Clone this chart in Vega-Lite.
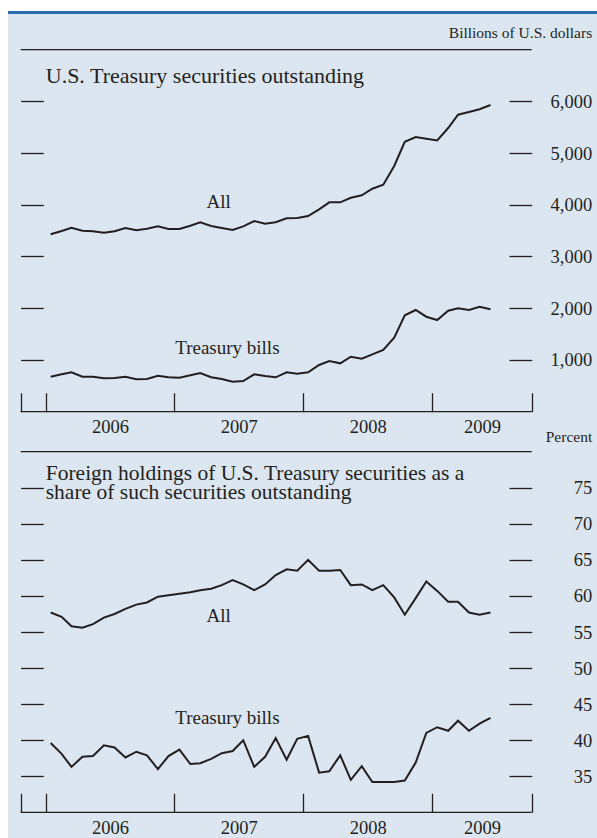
{
  "$schema": "https://vega.github.io/schema/vega-lite/v6.json",
  "background": "#ffffff",
  "padding": {"left": 8, "top": 11, "right": 0, "bottom": 0},
  "bounds": "flush",
  "spacing": 0,
  "config": {
    "font": "Liberation Serif",
    "view": {"stroke": null},
    "axis": {"labelFont": "Liberation Serif", "titleFont": "Liberation Serif", "labelColor": "#231f20", "tickColor": "#231f20", "titleColor": "#231f20", "grid": false, "domain": false, "tickWidth": 1.3, "labelFontSize": 18.5, "titleFontWeight": "normal"}
  },
  "datasets": {
    "outstanding": [
      {"series": "All", "date": "2006-01-15", "value": 3429}, {"series": "All", "date": "2006-02-15", "value": 3492}, {"series": "All", "date": "2006-03-15", "value": 3556}, {"series": "All", "date": "2006-04-15", "value": 3498}, {"series": "All", "date": "2006-05-15", "value": 3487}, {"series": "All", "date": "2006-06-15", "value": 3460}, {"series": "All", "date": "2006-07-15", "value": 3487}, {"series": "All", "date": "2006-08-15", "value": 3550}, {"series": "All", "date": "2006-09-15", "value": 3506}, {"series": "All", "date": "2006-10-15", "value": 3537}, {"series": "All", "date": "2006-11-15", "value": 3583}, {"series": "All", "date": "2006-12-15", "value": 3531},
      {"series": "All", "date": "2007-01-15", "value": 3531}, {"series": "All", "date": "2007-02-15", "value": 3595}, {"series": "All", "date": "2007-03-15", "value": 3661}, {"series": "All", "date": "2007-04-15", "value": 3589}, {"series": "All", "date": "2007-05-15", "value": 3550}, {"series": "All", "date": "2007-06-15", "value": 3512}, {"series": "All", "date": "2007-07-15", "value": 3583}, {"series": "All", "date": "2007-08-15", "value": 3686}, {"series": "All", "date": "2007-09-15", "value": 3634}, {"series": "All", "date": "2007-10-15", "value": 3661}, {"series": "All", "date": "2007-11-15", "value": 3738}, {"series": "All", "date": "2007-12-15", "value": 3744},
      {"series": "All", "date": "2008-01-15", "value": 3782}, {"series": "All", "date": "2008-02-15", "value": 3912}, {"series": "All", "date": "2008-03-15", "value": 4047}, {"series": "All", "date": "2008-04-15", "value": 4047}, {"series": "All", "date": "2008-05-15", "value": 4136}, {"series": "All", "date": "2008-06-15", "value": 4182}, {"series": "All", "date": "2008-07-15", "value": 4310}, {"series": "All", "date": "2008-08-15", "value": 4387}, {"series": "All", "date": "2008-09-15", "value": 4749}, {"series": "All", "date": "2008-10-15", "value": 5218}, {"series": "All", "date": "2008-11-15", "value": 5309}, {"series": "All", "date": "2008-12-15", "value": 5276},
      {"series": "All", "date": "2009-01-15", "value": 5244}, {"series": "All", "date": "2009-02-15", "value": 5483}, {"series": "All", "date": "2009-03-15", "value": 5740}, {"series": "All", "date": "2009-04-15", "value": 5792}, {"series": "All", "date": "2009-05-15", "value": 5845}, {"series": "All", "date": "2009-06-15", "value": 5928},
      {"series": "Treasury bills", "date": "2006-01-15", "value": 676}, {"series": "Treasury bills", "date": "2006-02-15", "value": 723}, {"series": "Treasury bills", "date": "2006-03-15", "value": 761}, {"series": "Treasury bills", "date": "2006-04-15", "value": 676}, {"series": "Treasury bills", "date": "2006-05-15", "value": 676}, {"series": "Treasury bills", "date": "2006-06-15", "value": 646}, {"series": "Treasury bills", "date": "2006-07-15", "value": 651}, {"series": "Treasury bills", "date": "2006-08-15", "value": 676}, {"series": "Treasury bills", "date": "2006-09-15", "value": 626}, {"series": "Treasury bills", "date": "2006-10-15", "value": 632}, {"series": "Treasury bills", "date": "2006-11-15", "value": 696}, {"series": "Treasury bills", "date": "2006-12-15", "value": 665},
      {"series": "Treasury bills", "date": "2007-01-15", "value": 657}, {"series": "Treasury bills", "date": "2007-02-15", "value": 704}, {"series": "Treasury bills", "date": "2007-03-15", "value": 748}, {"series": "Treasury bills", "date": "2007-04-15", "value": 665}, {"series": "Treasury bills", "date": "2007-05-15", "value": 632}, {"series": "Treasury bills", "date": "2007-06-15", "value": 580}, {"series": "Treasury bills", "date": "2007-07-15", "value": 593}, {"series": "Treasury bills", "date": "2007-08-15", "value": 723}, {"series": "Treasury bills", "date": "2007-09-15", "value": 690}, {"series": "Treasury bills", "date": "2007-10-15", "value": 665}, {"series": "Treasury bills", "date": "2007-11-15", "value": 761}, {"series": "Treasury bills", "date": "2007-12-15", "value": 734},
      {"series": "Treasury bills", "date": "2008-01-15", "value": 761}, {"series": "Treasury bills", "date": "2008-02-15", "value": 903}, {"series": "Treasury bills", "date": "2008-03-15", "value": 980}, {"series": "Treasury bills", "date": "2008-04-15", "value": 935}, {"series": "Treasury bills", "date": "2008-05-15", "value": 1063}, {"series": "Treasury bills", "date": "2008-06-15", "value": 1024}, {"series": "Treasury bills", "date": "2008-07-15", "value": 1109}, {"series": "Treasury bills", "date": "2008-08-15", "value": 1193}, {"series": "Treasury bills", "date": "2008-09-15", "value": 1430}, {"series": "Treasury bills", "date": "2008-10-15", "value": 1863}, {"series": "Treasury bills", "date": "2008-11-15", "value": 1966}, {"series": "Treasury bills", "date": "2008-12-15", "value": 1836},
      {"series": "Treasury bills", "date": "2009-01-15", "value": 1772}, {"series": "Treasury bills", "date": "2009-02-15", "value": 1952}, {"series": "Treasury bills", "date": "2009-03-15", "value": 1998}, {"series": "Treasury bills", "date": "2009-04-15", "value": 1966}, {"series": "Treasury bills", "date": "2009-05-15", "value": 2029}, {"series": "Treasury bills", "date": "2009-06-15", "value": 1979}
    ],
    "share": [
      {"series": "All", "date": "2006-01-15", "value": 57.7}, {"series": "All", "date": "2006-02-15", "value": 57.1}, {"series": "All", "date": "2006-03-15", "value": 55.8}, {"series": "All", "date": "2006-04-15", "value": 55.6}, {"series": "All", "date": "2006-05-15", "value": 56.1}, {"series": "All", "date": "2006-06-15", "value": 57.0}, {"series": "All", "date": "2006-07-15", "value": 57.5}, {"series": "All", "date": "2006-08-15", "value": 58.2}, {"series": "All", "date": "2006-09-15", "value": 58.8}, {"series": "All", "date": "2006-10-15", "value": 59.1}, {"series": "All", "date": "2006-11-15", "value": 59.9}, {"series": "All", "date": "2006-12-15", "value": 60.1},
      {"series": "All", "date": "2007-01-15", "value": 60.3}, {"series": "All", "date": "2007-02-15", "value": 60.5}, {"series": "All", "date": "2007-03-15", "value": 60.8}, {"series": "All", "date": "2007-04-15", "value": 61.0}, {"series": "All", "date": "2007-05-15", "value": 61.5}, {"series": "All", "date": "2007-06-15", "value": 62.2}, {"series": "All", "date": "2007-07-15", "value": 61.6}, {"series": "All", "date": "2007-08-15", "value": 60.8}, {"series": "All", "date": "2007-09-15", "value": 61.6}, {"series": "All", "date": "2007-10-15", "value": 62.9}, {"series": "All", "date": "2007-11-15", "value": 63.7}, {"series": "All", "date": "2007-12-15", "value": 63.5},
      {"series": "All", "date": "2008-01-15", "value": 65.0}, {"series": "All", "date": "2008-02-15", "value": 63.5}, {"series": "All", "date": "2008-03-15", "value": 63.5}, {"series": "All", "date": "2008-04-15", "value": 63.6}, {"series": "All", "date": "2008-05-15", "value": 61.5}, {"series": "All", "date": "2008-06-15", "value": 61.6}, {"series": "All", "date": "2008-07-15", "value": 60.8}, {"series": "All", "date": "2008-08-15", "value": 61.5}, {"series": "All", "date": "2008-09-15", "value": 59.8}, {"series": "All", "date": "2008-10-15", "value": 57.4}, {"series": "All", "date": "2008-11-15", "value": 59.7}, {"series": "All", "date": "2008-12-15", "value": 62.0},
      {"series": "All", "date": "2009-01-15", "value": 60.7}, {"series": "All", "date": "2009-02-15", "value": 59.2}, {"series": "All", "date": "2009-03-15", "value": 59.2}, {"series": "All", "date": "2009-04-15", "value": 57.7}, {"series": "All", "date": "2009-05-15", "value": 57.4}, {"series": "All", "date": "2009-06-15", "value": 57.7},
      {"series": "Treasury bills", "date": "2006-01-15", "value": 39.6}, {"series": "Treasury bills", "date": "2006-02-15", "value": 38.1}, {"series": "Treasury bills", "date": "2006-03-15", "value": 36.3}, {"series": "Treasury bills", "date": "2006-04-15", "value": 37.7}, {"series": "Treasury bills", "date": "2006-05-15", "value": 37.8}, {"series": "Treasury bills", "date": "2006-06-15", "value": 39.3}, {"series": "Treasury bills", "date": "2006-07-15", "value": 39.0}, {"series": "Treasury bills", "date": "2006-08-15", "value": 37.6}, {"series": "Treasury bills", "date": "2006-09-15", "value": 38.4}, {"series": "Treasury bills", "date": "2006-10-15", "value": 37.9}, {"series": "Treasury bills", "date": "2006-11-15", "value": 36.0}, {"series": "Treasury bills", "date": "2006-12-15", "value": 37.8},
      {"series": "Treasury bills", "date": "2007-01-15", "value": 38.7}, {"series": "Treasury bills", "date": "2007-02-15", "value": 36.7}, {"series": "Treasury bills", "date": "2007-03-15", "value": 36.8}, {"series": "Treasury bills", "date": "2007-04-15", "value": 37.4}, {"series": "Treasury bills", "date": "2007-05-15", "value": 38.2}, {"series": "Treasury bills", "date": "2007-06-15", "value": 38.5}, {"series": "Treasury bills", "date": "2007-07-15", "value": 40.0}, {"series": "Treasury bills", "date": "2007-08-15", "value": 36.3}, {"series": "Treasury bills", "date": "2007-09-15", "value": 37.7}, {"series": "Treasury bills", "date": "2007-10-15", "value": 40.3}, {"series": "Treasury bills", "date": "2007-11-15", "value": 37.3}, {"series": "Treasury bills", "date": "2007-12-15", "value": 40.2},
      {"series": "Treasury bills", "date": "2008-01-15", "value": 40.6}, {"series": "Treasury bills", "date": "2008-02-15", "value": 35.5}, {"series": "Treasury bills", "date": "2008-03-15", "value": 35.7}, {"series": "Treasury bills", "date": "2008-04-15", "value": 37.9}, {"series": "Treasury bills", "date": "2008-05-15", "value": 34.5}, {"series": "Treasury bills", "date": "2008-06-15", "value": 36.4}, {"series": "Treasury bills", "date": "2008-07-15", "value": 34.2}, {"series": "Treasury bills", "date": "2008-08-15", "value": 34.2}, {"series": "Treasury bills", "date": "2008-09-15", "value": 34.2}, {"series": "Treasury bills", "date": "2008-10-15", "value": 34.4}, {"series": "Treasury bills", "date": "2008-11-15", "value": 36.9}, {"series": "Treasury bills", "date": "2008-12-15", "value": 41.0},
      {"series": "Treasury bills", "date": "2009-01-15", "value": 41.8}, {"series": "Treasury bills", "date": "2009-02-15", "value": 41.3}, {"series": "Treasury bills", "date": "2009-03-15", "value": 42.7}, {"series": "Treasury bills", "date": "2009-04-15", "value": 41.3}, {"series": "Treasury bills", "date": "2009-05-15", "value": 42.3}, {"series": "Treasury bills", "date": "2009-06-15", "value": 43.1}
    ]
  },
  "vconcat": [
    {
      "width": 589, "height": 3,
      "view": {"fill": "#2a6db0", "stroke": null},
      "data": {"values": [{}]},
      "mark": {"type": "text", "text": "", "baseline": "top", "fontSize": 1},
      "encoding": {}
    },
    {
      "width": 589, "height": 432,
      "view": {"fill": "#dce6f0", "stroke": null},
      "resolve": {"axis": {"y": "independent"}},
      "layer": [
        {
          "data": {"name": "outstanding"},
          "mark": {"type": "line", "color": "#231f20", "strokeWidth": 2},
          "encoding": {
            "x": {"field": "date", "type": "temporal",
              "scale": {"domain": [{"year": 2005, "month": 9, "date": 16}, {"year": 2010, "month": 4, "date": 13}], "nice": false},
              "axis": {"orient": "bottom", "offset": -53.3, "title": null,
                "values": [{"year": 2005, "month": 10, "date": 22}, {"year": 2006, "month": 1, "date": 1}, {"year": 2006, "month": 7, "date": 2}, {"year": 2007, "month": 1, "date": 1}, {"year": 2007, "month": 7, "date": 2}, {"year": 2008, "month": 1, "date": 1}, {"year": 2008, "month": 7, "date": 2}, {"year": 2009, "month": 1, "date": 1}, {"year": 2009, "month": 5, "date": 22}, {"year": 2009, "month": 10, "date": 10}],
                "tickSize": 19, "labelPadding": 6, "labelFlush": false, "labelOverlap": false, "labelBound": false,
                "labelExpr": "(month(datum.value) == 6 || month(datum.value) == 4) ? timeFormat(datum.value, '%Y') : ''",
                "tickOpacity": {"condition": {"test": "month(datum.value) == 6 || month(datum.value) == 4", "value": 0}, "value": 1}}},
            "y": {"field": "value", "type": "quantitative",
              "scale": {"domain": [-663, 7687], "nice": false, "zero": false},
              "axis": {"orient": "left", "offset": -35.3, "values": [1000, 2000, 3000, 4000, 5000, 6000], "tickSize": 22.7, "labels": false, "title": null}},
            "detail": {"field": "series"}
          }
        },
        {
          "data": {"values": [{}]},
          "mark": {"type": "rule", "color": "#231f20", "strokeWidth": 1.3},
          "encoding": {
            "x": {"datum": {"year": 2005, "month": 10, "date": 22}, "type": "temporal"},
            "x2": {"datum": {"year": 2009, "month": 10, "date": 10}},
            "y": {"datum": 7000, "type": "quantitative",
              "axis": {"orient": "right", "offset": -88, "values": [1000, 2000, 3000, 4000, 5000, 6000], "tickSize": 22.7, "labelAlign": "right", "labelPadding": 60, "format": ",d",
                "title": "Billions of U.S. dollars", "titleAngle": 0, "titleAlign": "right", "titleBaseline": "alphabetic", "titleX": 82.7, "titleY": 23, "titleFontSize": 15.5}}
          }
        },
        {
          "data": {"values": [{}]},
          "mark": {"type": "rule", "color": "#231f20", "strokeWidth": 1.3},
          "encoding": {
            "x": {"datum": {"year": 2005, "month": 10, "date": 22}, "type": "temporal"},
            "x2": {"datum": {"year": 2009, "month": 10, "date": 10}},
            "y": {"datum": 0, "type": "quantitative", "axis": null}
          }
        },
        {
          "data": {"values": [{}]},
          "mark": {"type": "text", "text": "U.S. Treasury securities outstanding", "fontSize": 22, "align": "left", "baseline": "alphabetic", "color": "#231f20"},
          "encoding": {
            "x": {"datum": {"year": 2006, "month": 1, "date": 1}, "type": "temporal"},
            "y": {"datum": 6353, "type": "quantitative", "axis": null}
          }
        },
        {
          "data": {"values": [{}]},
          "mark": {"type": "text", "text": "All", "fontSize": 19, "align": "center", "baseline": "alphabetic", "color": "#231f20"},
          "encoding": {
            "x": {"datum": {"year": 2007, "month": 5, "date": 6}, "type": "temporal"},
            "y": {"datum": 3931, "type": "quantitative", "axis": null}
          }
        },
        {
          "data": {"values": [{}]},
          "mark": {"type": "text", "text": "Treasury bills", "fontSize": 19, "align": "center", "baseline": "alphabetic", "color": "#231f20"},
          "encoding": {
            "x": {"datum": {"year": 2007, "month": 5, "date": 31}, "type": "temporal"},
            "y": {"datum": 1109, "type": "quantitative", "axis": null}
          }
        }
      ]
    },
    {
      "width": 589, "height": 392,
      "view": {"fill": "#dce6f0", "stroke": null},
      "resolve": {"axis": {"y": "independent"}},
      "layer": [
        {
          "data": {"name": "share"},
          "mark": {"type": "line", "color": "#231f20", "strokeWidth": 2},
          "encoding": {
            "x": {"field": "date", "type": "temporal",
              "scale": {"domain": [{"year": 2005, "month": 9, "date": 16}, {"year": 2010, "month": 4, "date": 13}], "nice": false},
              "axis": {"orient": "bottom", "offset": -44.7, "title": null,
                "values": [{"year": 2005, "month": 10, "date": 22}, {"year": 2006, "month": 1, "date": 1}, {"year": 2006, "month": 7, "date": 2}, {"year": 2007, "month": 1, "date": 1}, {"year": 2007, "month": 7, "date": 2}, {"year": 2008, "month": 1, "date": 1}, {"year": 2008, "month": 7, "date": 2}, {"year": 2009, "month": 1, "date": 1}, {"year": 2009, "month": 5, "date": 22}, {"year": 2009, "month": 10, "date": 10}],
                "tickSize": 19, "labelPadding": 6, "labelFlush": false, "labelOverlap": false, "labelBound": false,
                "labelExpr": "(month(datum.value) == 6 || month(datum.value) == 4) ? timeFormat(datum.value, '%Y') : ''",
                "tickOpacity": {"condition": {"test": "month(datum.value) == 6 || month(datum.value) == 4", "value": 0}, "value": 1}}},
            "y": {"field": "value", "type": "quantitative",
              "scale": {"domain": [26.44, 80.79], "nice": false, "zero": false},
              "axis": {"orient": "left", "offset": -35.3, "values": [35, 40, 45, 50, 55, 60, 65, 70, 75], "tickSize": 22.7, "labels": false, "title": null}},
            "detail": {"field": "series"}
          }
        },
        {
          "data": {"values": [{}]},
          "mark": {"type": "rule", "color": "#231f20", "strokeWidth": 1.3},
          "encoding": {
            "x": {"datum": {"year": 2005, "month": 10, "date": 22}, "type": "temporal"},
            "x2": {"datum": {"year": 2009, "month": 10, "date": 10}},
            "y": {"datum": 80, "type": "quantitative",
              "axis": {"orient": "right", "offset": -88, "values": [35, 40, 45, 50, 55, 60, 65, 70, 75], "tickSize": 22.7, "labelAlign": "right", "labelPadding": 60, "format": "d",
                "title": "Percent", "titleAngle": 0, "titleAlign": "right", "titleBaseline": "alphabetic", "titleX": 82.7, "titleY": -5, "titleFontSize": 15.5}}
          }
        },
        {
          "data": {"values": [{}]},
          "mark": {"type": "rule", "color": "#231f20", "strokeWidth": 1.3},
          "encoding": {
            "x": {"datum": {"year": 2005, "month": 10, "date": 22}, "type": "temporal"},
            "x2": {"datum": {"year": 2009, "month": 10, "date": 10}},
            "y": {"datum": 30, "type": "quantitative", "axis": null}
          }
        },
        {
          "data": {"values": [{}]},
          "mark": {"type": "text", "text": ["Foreign holdings of U.S. Treasury securities as a", "share of such securities outstanding"], "fontSize": 21.5, "lineHeight": 19.5, "align": "left", "baseline": "alphabetic", "color": "#231f20"},
          "encoding": {
            "x": {"datum": {"year": 2006, "month": 1, "date": 1}, "type": "temporal"},
            "y": {"datum": 76.1, "type": "quantitative", "axis": null}
          }
        },
        {
          "data": {"values": [{}]},
          "mark": {"type": "text", "text": "All", "fontSize": 19, "align": "center", "baseline": "alphabetic", "color": "#231f20"},
          "encoding": {
            "x": {"datum": {"year": 2007, "month": 5, "date": 6}, "type": "temporal"},
            "y": {"datum": 56.43, "type": "quantitative", "axis": null}
          }
        },
        {
          "data": {"values": [{}]},
          "mark": {"type": "text", "text": "Treasury bills", "fontSize": 19, "align": "center", "baseline": "alphabetic", "color": "#231f20"},
          "encoding": {
            "x": {"datum": {"year": 2007, "month": 5, "date": 31}, "type": "temporal"},
            "y": {"datum": 42.24, "type": "quantitative", "axis": null}
          }
        }
      ]
    }
  ]
}
